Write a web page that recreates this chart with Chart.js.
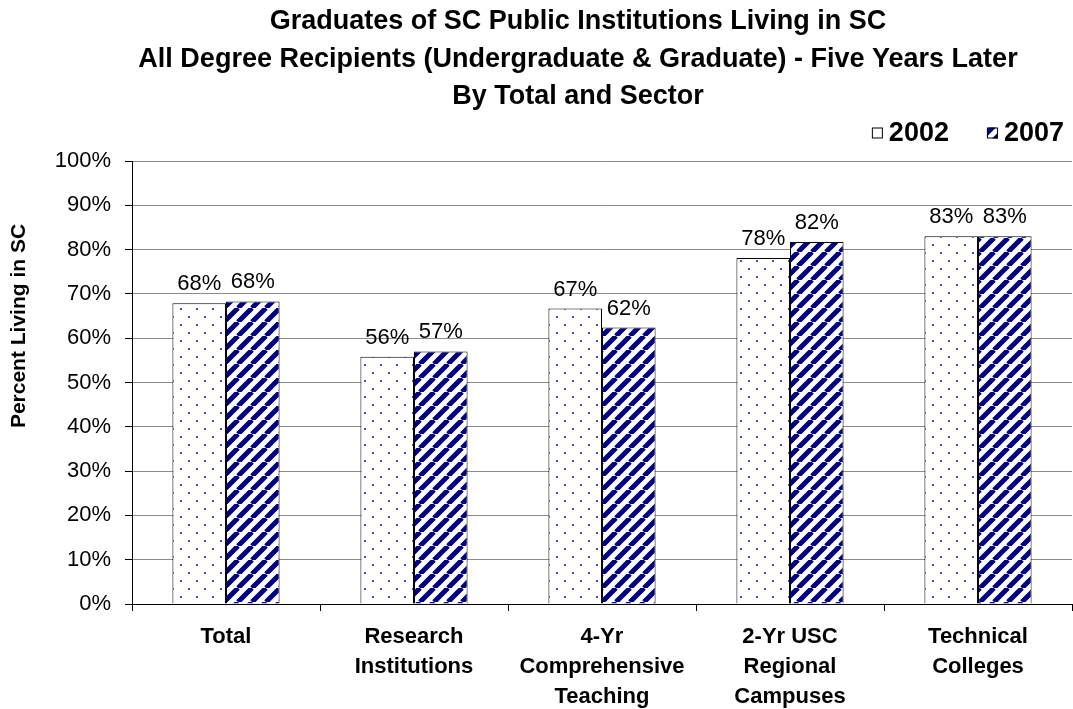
<!DOCTYPE html>
<html>
<head>
<meta charset="utf-8">
<script src="https://cdn.jsdelivr.net/npm/chart.js@4.4.1/dist/chart.umd.min.js"></script>
<style>
  html, body { margin: 0; padding: 0; background: #fff; }
  #wrap { width: 1073px; height: 709px; position: relative; }
</style>
</head>
<body>
<div id="wrap"><canvas id="mainChart"></canvas></div>
<script>
  // chart data
  const categories = [
    'Total',
    ['Research', 'Institutions'],
    ['4-Yr', 'Comprehensive', 'Teaching'],
    ['2-Yr USC', 'Regional', 'Campuses'],
    ['Technical', 'Colleges']
  ];
  const seriesNames = ['2002', '2007'];
  const values2002 = [67.9, 55.8, 66.7, 78.1, 83.0];
  const values2007 = [68.3, 57.0, 62.4, 81.7, 83.0];
  const titleLines = [
    'Graduates of SC Public Institutions Living in SC',
    'All Degree Recipients (Undergraduate & Graduate) - Five Years Later',
    'By Total and Sector'
  ];
  const yAxisTitle = 'Percent Living in SC';

  const FONT = "'Liberation Sans', Arial, sans-serif";

  // dotted fill for 2002
  function dotPattern() {
    const c = document.createElement('canvas');
    c.width = 16; c.height = 16;
    const g = c.getContext('2d');
    g.fillStyle = '#fff';
    g.fillRect(0, 0, 16, 16);
    g.fillStyle = '#4b4bcc';
    g.fillRect(4, 4, 2, 2);
    g.fillRect(12, 12, 2, 2);
    return g.createPattern(c, 'repeat');
  }

  // diagonal navy stripes for 2007
  function stripePattern() {
    const s = 14;
    const c = document.createElement('canvas');
    c.width = s; c.height = s;
    const g = c.getContext('2d');
    g.fillStyle = '#fff';
    g.fillRect(0, 0, s, s);
    g.strokeStyle = '#000080';
    g.lineWidth = 5;
    g.beginPath();
    for (let k = -s; k <= s; k += s) {
      g.moveTo(k, s);
      g.lineTo(k + s, 0);
    }
    g.stroke();
    return g.createPattern(c, 'repeat');
  }

  // value labels above the bars
  const barLabels = {
    id: 'barLabels',
    afterDatasetsDraw(chart) {
      const ctx = chart.ctx;
      ctx.save();
      ctx.font = '22px ' + FONT;
      ctx.fillStyle = '#000';
      ctx.textAlign = 'center';
      ctx.textBaseline = 'alphabetic';
      chart.data.datasets.forEach((ds, i) => {
        chart.getDatasetMeta(i).data.forEach((bar, j) => {
          ctx.fillText(Math.round(ds.data[j]) + '%', bar.x, bar.y - 13);
        });
      });
      ctx.restore();
    }
  };

  // title, y title and legend placed like the original
  const headings = {
    id: 'headings',
    afterDraw(chart) {
      const ctx = chart.ctx;
      ctx.save();
      ctx.fillStyle = '#000';

      // title
      ctx.font = 'bold 27px ' + FONT;
      ctx.textAlign = 'center';
      ctx.textBaseline = 'middle';
      titleLines.forEach((t, i) => ctx.fillText(t, 578, 22 + i * 37.5));

      // y title
      ctx.save();
      ctx.translate(19, 326);
      ctx.rotate(-Math.PI / 2);
      ctx.font = 'bold 21px ' + FONT;
      ctx.fillText(yAxisTitle, 0, 0);
      ctx.restore();

      // legend, laid out right to left
      ctx.font = 'bold 27px ' + FONT;
      ctx.textAlign = 'left';
      const box = 11, gap = 6, between = 38, cy = 133;
      let right = 1064;
      const items = chart.data.datasets.map((ds) => ds).reverse();
      items.forEach((ds) => {
        const w = ctx.measureText(ds.label).width;
        const tx = right - w;
        ctx.fillStyle = '#000';
        ctx.fillText(ds.label, tx, cy + 1);
        const bx = tx - gap - box;
        ctx.fillStyle = ds.backgroundColor;
        ctx.fillRect(bx, cy - box / 2, box, box);
        ctx.strokeStyle = '#000';
        ctx.lineWidth = 1;
        ctx.strokeRect(bx + 0.5, cy - box / 2 + 0.5, box - 1, box - 1);
        right = bx - between;
      });
      ctx.restore();
    }
  };

  const ctx = document.getElementById('mainChart').getContext('2d');
  const mainChart = new Chart(ctx, {
    type: 'bar',
    data: {
      labels: categories,
      datasets: [
        {
          label: seriesNames[0],
          data: values2002,
          backgroundColor: dotPattern(),
          borderColor: '#000',
          borderWidth: 1,
          barPercentage: 1,
          categoryPercentage: 0.57
        },
        {
          label: seriesNames[1],
          data: values2007,
          backgroundColor: stripePattern(),
          borderColor: '#000',
          borderWidth: 1,
          barPercentage: 1,
          categoryPercentage: 0.57
        }
      ]
    },
    options: {
      responsive: true,
      maintainAspectRatio: false,
      animation: false,
      layout: { padding: { top: 161, left: 0, right: 1, bottom: 0 } },
      plugins: {
        title: { display: false },
        legend: { display: false },
        tooltip: { enabled: false }
      },
      scales: {
        x: {
          afterFit(scale) { scale.height = 105; },
          grid: {
            display: true,
            offset: true,
            drawOnChartArea: false,
            drawTicks: true,
            tickLength: 7,
            color: '#000'
          },
          border: { color: '#000', width: 1 },
          ticks: {
            color: '#000',
            font: { family: FONT, size: 22, weight: 'bold', lineHeight: 1.36 },
            maxRotation: 0,
            autoSkip: false,
            padding: 11
          }
        },
        y: {
          min: 0,
          max: 100,
          afterFit(scale) { scale.width = 132; },
          grid: {
            color: '#8c8c8c',
            tickColor: '#000',
            tickLength: 7,
            lineWidth: 1
          },
          border: { color: '#000', width: 1 },
          ticks: {
            stepSize: 10,
            color: '#000',
            font: { family: FONT, size: 22 },
            padding: 14,
            callback: (v) => v + '%'
          }
        }
      }
    },
    plugins: [barLabels, headings]
  });
</script>
</body>
</html>
